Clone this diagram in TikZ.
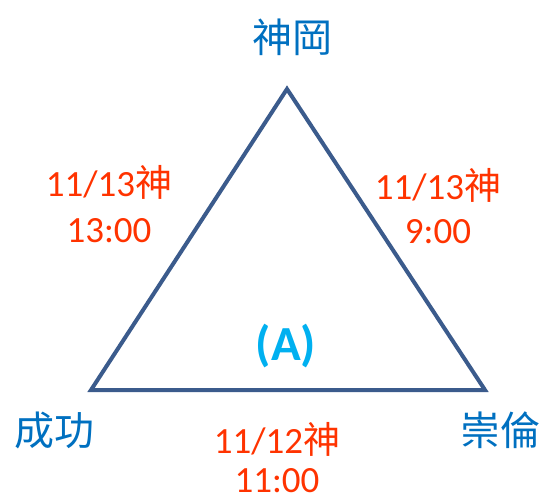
\documentclass[tikz,border=0pt]{standalone}
\usepackage{fontspec}
\setmainfont{Carlito}
\newfontfamily\cjk{Noto Sans CJK TC}
\definecolor{edgeblue}{HTML}{3B5B8C}
\definecolor{namebl}{HTML}{0070C0}
\definecolor{timered}{HTML}{FF3300}
\definecolor{acyan}{HTML}{00B0F0}
\begin{document}
\begin{tikzpicture}[x=1pt,y=-1pt,
  place/.style={text=namebl,font=\cjk\fontsize{40}{48}\selectfont,inner sep=0pt},
  timelbl/.style={text=timered,font=\fontsize{37}{44}\selectfont,anchor=base,inner sep=0pt,text depth=0pt},
  edge/.style={draw=edgeblue,line width=4pt,line join=miter}]
\useasboundingbox (0,0) rectangle (543,500);
\coordinate (top) at (287,89);
\coordinate (bl) at (91,390);
\coordinate (br) at (485,390);
\draw[edge] (top) -- (br) -- (bl) -- cycle;
\node[place] (kang) at (292,37) {神岡};
\node[place] (cheng) at (54,430) {成功};
\node[place] (chong) at (500,430) {崇倫};
\node[timelbl] (tla) at (109,196) {11/13{\cjk 神}};
\node[timelbl] (tlb) at (109,242) {13:00};
\node[timelbl] (tra) at (438,199) {11/13{\cjk 神}};
\node[timelbl] (trb) at (438,243) {9:00};
\node[timelbl] (tba) at (277,453) {11/12{\cjk 神}};
\node[timelbl] (tbb) at (277,492) {11:00};
\node[text=acyan,font=\bfseries\fontsize{49}{58}\selectfont,anchor=base,inner sep=0pt] (a) at (286,360) {(A)};
\end{tikzpicture}
\end{document}
